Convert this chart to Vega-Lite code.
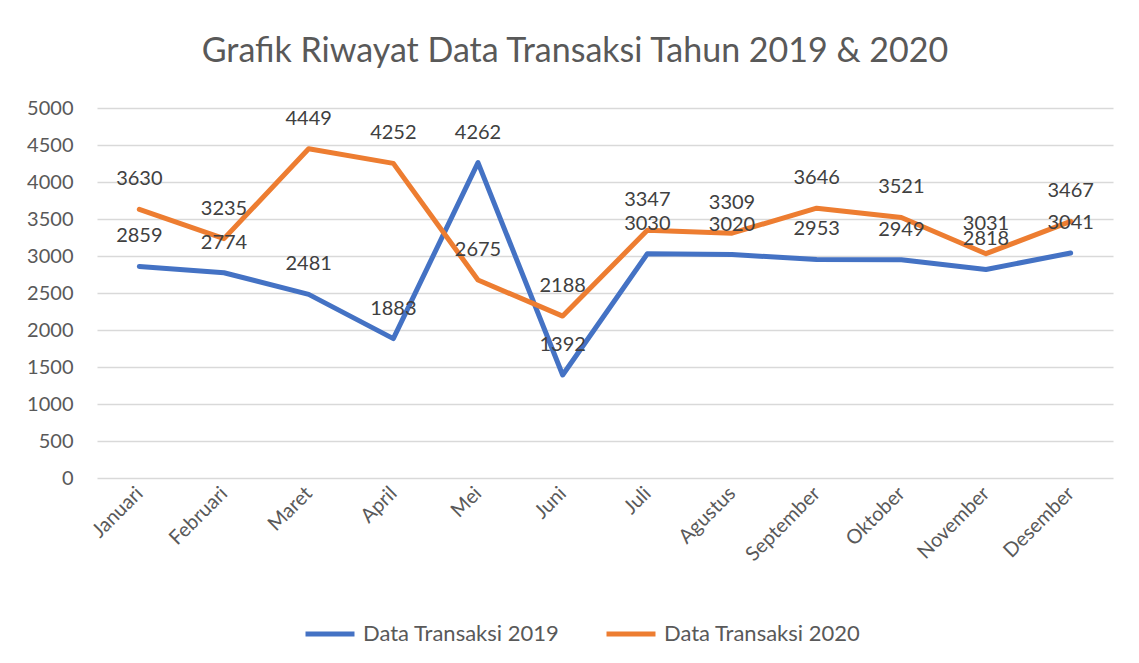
{
  "$schema": "https://vega.github.io/schema/vega-lite/v6.json",
  "autosize": {"type": "none"},
  "width": 1016,
  "height": 370,
  "padding": {"left": 97, "top": 108, "right": 26, "bottom": 185},
  "background": "white",
  "title": {
    "text": "Grafik Riwayat Data Transaksi Tahun 2019 & 2020",
    "font": "Lato",
    "fontSize": 34,
    "fontWeight": "normal",
    "color": "#595959",
    "anchor": "middle",
    "frame": "group",
    "baseline": "alphabetic",
    "offset": 2,
    "dx": -30
  },
  "data": {
    "values": [
      {"bulan": "Januari", "seri": "Data Transaksi 2019", "nilai": 2859},
      {"bulan": "Februari", "seri": "Data Transaksi 2019", "nilai": 2774},
      {"bulan": "Maret", "seri": "Data Transaksi 2019", "nilai": 2481},
      {"bulan": "April", "seri": "Data Transaksi 2019", "nilai": 1883},
      {"bulan": "Mei", "seri": "Data Transaksi 2019", "nilai": 4262},
      {"bulan": "Juni", "seri": "Data Transaksi 2019", "nilai": 1392},
      {"bulan": "Juli", "seri": "Data Transaksi 2019", "nilai": 3030},
      {"bulan": "Agustus", "seri": "Data Transaksi 2019", "nilai": 3020},
      {"bulan": "September", "seri": "Data Transaksi 2019", "nilai": 2953},
      {"bulan": "Oktober", "seri": "Data Transaksi 2019", "nilai": 2949},
      {"bulan": "November", "seri": "Data Transaksi 2019", "nilai": 2818},
      {"bulan": "Desember", "seri": "Data Transaksi 2019", "nilai": 3041},
      {"bulan": "Januari", "seri": "Data Transaksi 2020", "nilai": 3630},
      {"bulan": "Februari", "seri": "Data Transaksi 2020", "nilai": 3235},
      {"bulan": "Maret", "seri": "Data Transaksi 2020", "nilai": 4449},
      {"bulan": "April", "seri": "Data Transaksi 2020", "nilai": 4252},
      {"bulan": "Mei", "seri": "Data Transaksi 2020", "nilai": 2675},
      {"bulan": "Juni", "seri": "Data Transaksi 2020", "nilai": 2188},
      {"bulan": "Juli", "seri": "Data Transaksi 2020", "nilai": 3347},
      {"bulan": "Agustus", "seri": "Data Transaksi 2020", "nilai": 3309},
      {"bulan": "September", "seri": "Data Transaksi 2020", "nilai": 3646},
      {"bulan": "Oktober", "seri": "Data Transaksi 2020", "nilai": 3521},
      {"bulan": "November", "seri": "Data Transaksi 2020", "nilai": 3031},
      {"bulan": "Desember", "seri": "Data Transaksi 2020", "nilai": 3467}
    ]
  },
  "encoding": {
    "x": {
      "field": "bulan",
      "type": "ordinal",
      "sort": ["Januari","Februari","Maret","April","Mei","Juni","Juli","Agustus","September","Oktober","November","Desember"],
      "scale": {"type": "point", "padding": 0.5},
      "axis": {
        "title": null,
        "labelAngle": -45,
        "labelAlign": "right",
        "labelBaseline": "middle",
        "labelPadding": 12,
        "ticks": false,
        "domain": false,
        "grid": false,
        "labelFont": "Lato",
        "labelFontSize": 20,
        "labelColor": "#595959",
        "labelLimit": 0
      }
    },
    "y": {
      "field": "nilai",
      "type": "quantitative",
      "scale": {"domain": [0, 5000], "nice": false},
      "axis": {
        "title": null,
        "values": [0,500,1000,1500,2000,2500,3000,3500,4000,4500,5000],
        "format": "d",
        "ticks": false,
        "domain": false,
        "grid": true,
        "gridColor": "#d9d9d9",
        "gridWidth": 1.5,
        "labelPadding": 24,
        "labelFont": "Lato",
        "labelFontSize": 20,
        "labelColor": "#595959"
      }
    },
    "color": {
      "field": "seri",
      "type": "nominal",
      "scale": {"domain": ["Data Transaksi 2019", "Data Transaksi 2020"], "range": ["#4472C4", "#ED7D31"]},
      "legend": {
        "title": null,
        "orient": "none",
        "direction": "horizontal",
        "legendX": 206,
        "legendY": 499,
        "symbolType": "stroke",
        "symbolSize": 2400,
        "symbolStrokeWidth": 5,
        "labelFont": "Lato",
        "labelFontSize": 22,
        "labelColor": "#595959",
        "labelLimit": 0,
        "labelOffset": 6,
        "columnPadding": 36
      }
    }
  },
  "layer": [
    {"mark": {"type": "line", "strokeWidth": 5, "strokeCap": "round", "strokeJoin": "round"}},
    {
      "mark": {"type": "text", "baseline": "bottom", "dy": -20, "font": "Lato", "fontSize": 20, "color": "#404040"},
      "encoding": {"text": {"field": "nilai", "type": "quantitative", "format": "d"}, "color": {"value": "#404040"}}
    }
  ],
  "config": {"view": {"stroke": null}}
}
